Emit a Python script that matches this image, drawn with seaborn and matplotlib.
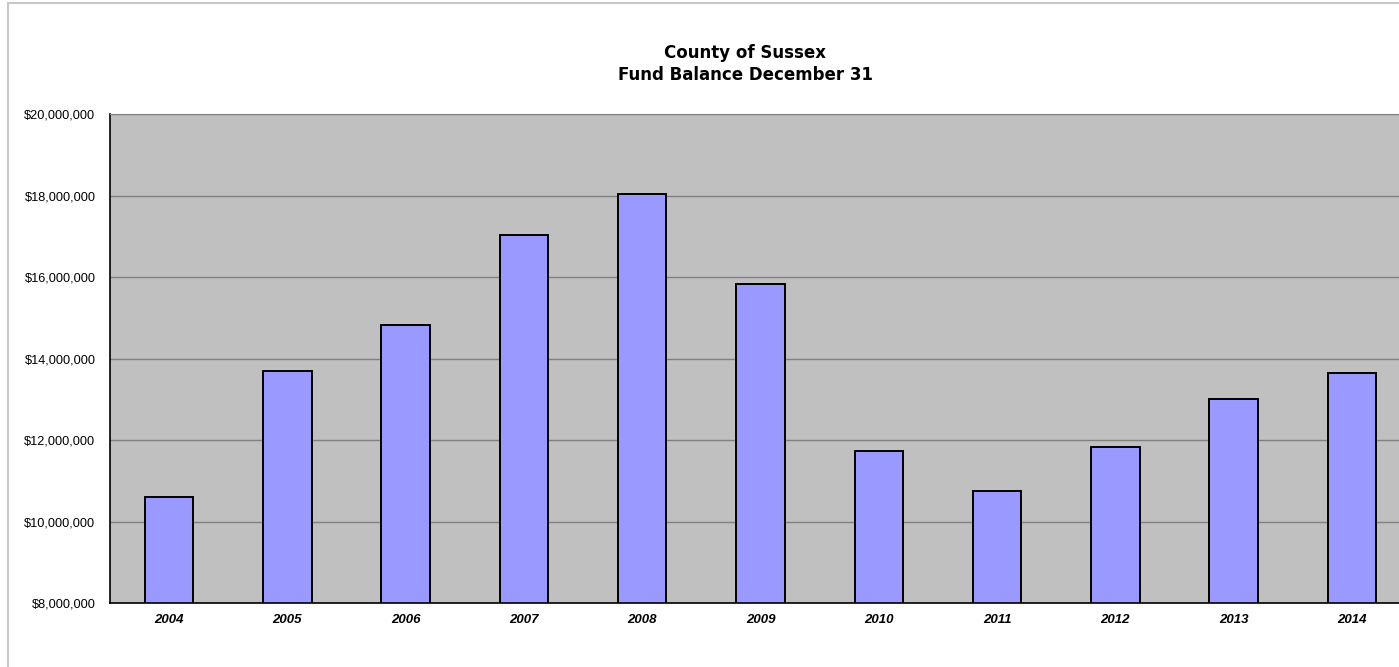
import matplotlib
matplotlib.use("Agg")
import matplotlib.pyplot as plt
import matplotlib.ticker as ticker
from matplotlib.patches import Rectangle
import seaborn as sns
import pandas as pd

# Fund balance at December 31
years = ["2004", "2005", "2006", "2007", "2008", "2009",
         "2010", "2011", "2012", "2013", "2014"]
balances = [10600000, 13700000, 14820000, 17030000, 18040000, 15840000,
            11720000, 10750000, 11830000, 13000000, 13650000]
y_ticks = [8000000, 10000000, 12000000, 14000000, 16000000, 18000000, 20000000]

df = pd.DataFrame({"Year": years, "Balance": balances})

sns.set_style("white")
plt.rcParams['font.family'] = ['Liberation Sans', 'DejaVu Sans']
plt.rcParams['text.color'] = 'black'
plt.rcParams['xtick.labelcolor'] = 'black'
plt.rcParams['ytick.labelcolor'] = 'black'

W, H = 1399, 667
fig = plt.figure(figsize=(W / 100, H / 100), dpi=100)

# plot area: left 110px, top 114px, bottom 603px, extends past right edge
ax = fig.add_axes([110 / W, 1 - 603 / H, 1301 / W, (603 - 114) / H])
ax.set_facecolor('#C0C0C0')

sns.barplot(data=df, x="Year", y="Balance", ax=ax, color='#9999FF',
            width=0.41, edgecolor='black', linewidth=1.4, saturation=1)

ax.set_ylim(8000000, 20000000)
ax.set_xlim(-0.5, len(years) - 0.5)
ax.set_yticks(y_ticks)
ax.yaxis.set_major_formatter(ticker.StrMethodFormatter('${x:,.0f}'))
ax.grid(True, axis='y', color='#808080', linewidth=1)
ax.set_axisbelow(True)
ax.set_xlabel('')
ax.set_ylabel('')

# category boundary ticks on x axis
ax.set_xticks(range(len(years)))
ax.set_xticklabels(years, fontsize=9.5, fontweight='bold', fontstyle='italic')
ax.set_xticks([i - 0.5 for i in range(len(years) + 1)], minor=True)
ax.tick_params(axis='x', which='major', length=0, pad=8)
ax.tick_params(axis='x', which='minor', length=4, color='#A0A0A0', width=1)
ax.tick_params(axis='y', length=4, color='#808080', labelsize=9.2, pad=6.5)

for s in ['left', 'bottom']:
    ax.spines[s].set_color('black')
    ax.spines[s].set_linewidth(1.2)
ax.spines['top'].set_color('#808080')
ax.spines['right'].set_visible(False)

fig.text(745 / W, 1 - 64 / H, 'County of Sussex\nFund Balance December 31',
         ha='center', va='center', fontsize=12, fontweight='heavy',
         family=['DejaVu Sans'], linespacing=1.25, color='black')

# light frame around the chart area
fig.patches.append(Rectangle((8 / W, -0.05), 1.2, 1 - 3 / H + 0.05,
                             transform=fig.transFigure, fill=False,
                             edgecolor='#C8C8C8', linewidth=1.5))

fig.savefig('out.png', dpi=100)
